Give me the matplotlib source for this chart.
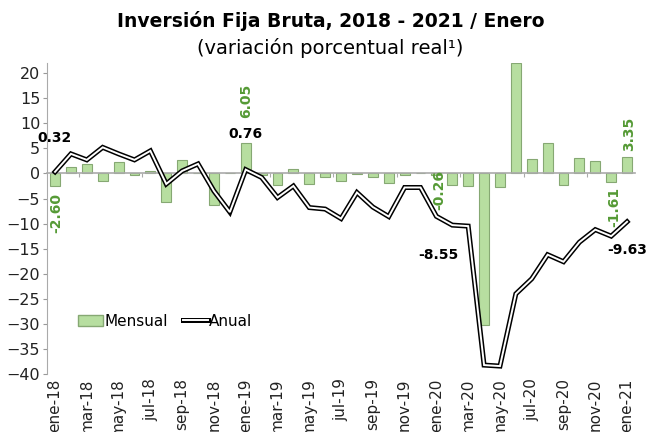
import numpy as np
import matplotlib
matplotlib.use("Agg")
import matplotlib.pyplot as plt
from matplotlib.lines import Line2D
from matplotlib.patches import Patch
import matplotlib.patheffects as pe

plt.rcParams['font.family'] = ['DejaVu Sans']

# Datos
meses = ['ene', 'feb', 'mar', 'abr', 'may', 'jun', 'jul', 'ago', 'sep', 'oct', 'nov', 'dic']
etiquetas = [f'{m}-{a}' for a in ['18', '19', '20'] for m in meses] + ['ene-21']

mensual = [-2.60, 1.3, 1.9, -1.5, 2.3, -0.4, 0.5, -5.7, 2.7, 0.1, -6.3, 0.0,
           6.05, -0.3, -2.3, 0.9, -2.2, -0.7, -1.6, -0.1, -0.7, -1.9, -0.4, 0.1,
           -0.26, -2.3, -2.5, -30.2, -2.8, 22.0, 2.9, 6.0, -2.4, 3.1, 2.5, -1.61,
           3.35]

anual = [0.32, 3.9, 2.7, 5.2, 3.9, 2.7, 4.5, -2.1, 0.5, 1.9, -3.5, -7.7,
         0.76, -0.8, -4.8, -2.5, -6.8, -7.1, -9.0, -3.8, -6.7, -8.6, -2.8, -2.8,
         -8.55, -10.3, -10.5, -38.2, -38.4, -24.0, -21.0, -16.2, -17.6, -13.7, -11.2, -12.5,
         -9.63]

x = np.arange(len(etiquetas))

verde_barra = '#b7dea0'
borde_barra = '#86a873'
verde_txt = '#559a35'

fig = plt.figure(figsize=(6.54, 4.32), dpi=100)
ax = fig.add_axes([0.072, 0.134, 0.899, 0.72])

ax.bar(x, mensual, width=0.62, color=verde_barra, edgecolor=borde_barra, linewidth=0.8, zorder=2)
ax.plot(x, anual, color='black', linewidth=3.6, zorder=3, solid_joinstyle='miter')
ax.plot(x, anual, color='white', linewidth=1.4, zorder=4, solid_joinstyle='miter')

ax.set_xlim(-0.5, len(x) - 0.5)
ax.set_ylim(-40, 22)
ax.set_yticks(np.arange(-40, 21, 5))
ax.tick_params(axis='y', labelsize=11.5, colors='#222222', length=3, color='#999999', pad=2)

# eje x en el cero con marcas cada 4 meses
ax.spines['bottom'].set_position(('data', 0))
ax.spines['bottom'].set_color('#aaaaaa')
ax.spines['bottom'].set_linewidth(1.2)
ax.set_xticks(np.arange(1.5, len(x), 4))
ax.set_xticklabels([])
ax.tick_params(axis='x', length=3, color='#aaaaaa', direction='out')
ax.spines['left'].set_color('#aaaaaa')
ax.spines['top'].set_visible(False)
ax.spines['right'].set_visible(False)

sec = ax.secondary_xaxis('bottom')
sec.set_xticks(x[::2])
sec.set_xticklabels(etiquetas[::2], rotation=90, fontsize=11, color='#222222')
sec.tick_params(length=0, pad=3)
sec.spines['bottom'].set_visible(False)

# etiquetas de datos
for xi, yi, txt in [(0.05, -7.8, '-2.60'), (12, 14.4, '6.05'), (24.2, -3.4, '-0.26'),
                    (35.2, -6.7, '-1.61'), (36.1, 7.9, '3.35')]:
    ax.text(xi, yi, txt, rotation=90, ha='center', va='center', color=verde_txt,
            fontsize=10, fontweight='bold')
for xi, yi, txt in [(-0.05, 7.1, '0.32'), (12, 7.9, '0.76'), (24.1, -16.3, '-8.55'),
                    (36, -15.3, '-9.63')]:
    ax.text(xi, yi, txt, ha='center', va='center', color='black', fontsize=10, fontweight='bold')

# leyenda
linea = Line2D([0], [0], color='black', linewidth=3.6,
               path_effects=[pe.Stroke(linewidth=3.6, foreground='black'),
                             pe.Stroke(linewidth=1.4, foreground='white')])
h = [Patch(facecolor=verde_barra, edgecolor=borde_barra), linea]
ax.legend(h, ['Mensual', 'Anual'], loc='center left', bbox_to_anchor=(0.03, 0.17), ncol=2,
          frameon=False, fontsize=11, handlelength=1.6, handletextpad=0.1, columnspacing=1.0)

fig.text(0.505, 0.952, 'Inversión Fija Bruta, 2018 - 2021 / Enero', ha='center', va='center',
         fontsize=13.5, fontweight='bold')
fig.text(0.505, 0.89, '(variación porcentual real¹)', ha='center', va='center', fontsize=14)

fig.savefig('out.png', dpi=100)
